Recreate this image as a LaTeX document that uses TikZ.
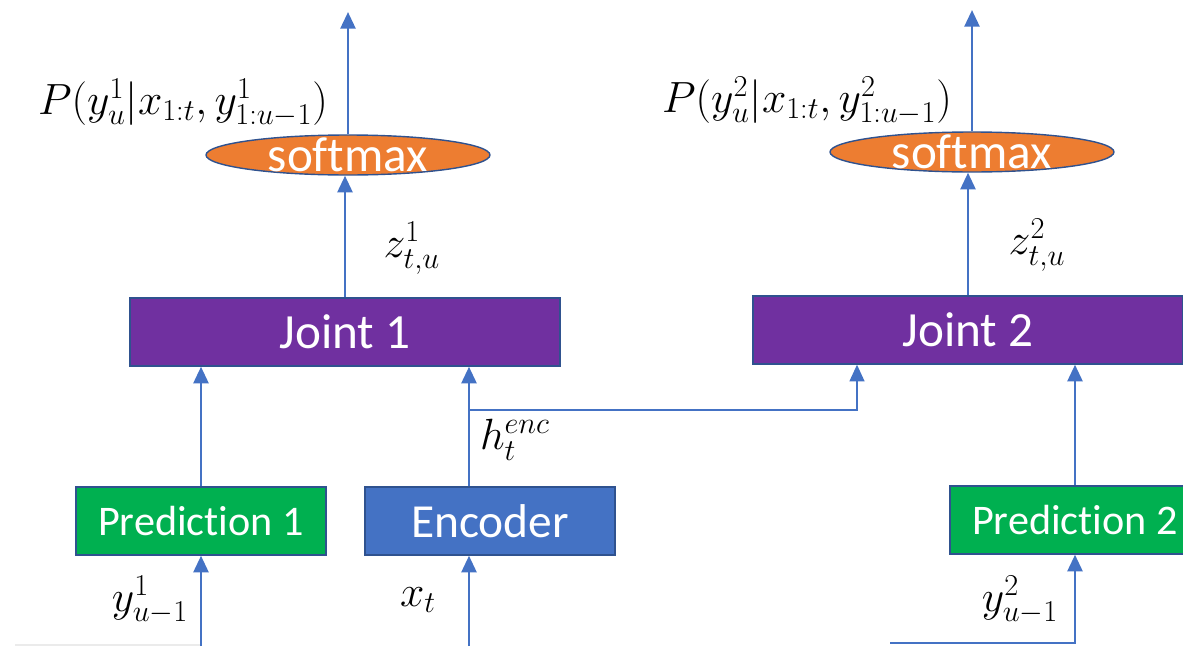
\documentclass[tikz,border=0pt]{standalone}
\usepackage{fontspec}
\newfontfamily\boxfont[Ligatures=NoCommon]{Carlito}
\usetikzlibrary{arrows.meta, positioning, shapes.geometric}
\definecolor{arrowblue}{HTML}{4472C4}
\definecolor{edgeblue}{HTML}{2F528F}
\definecolor{jointpurple}{HTML}{7030A0}
\definecolor{predgreen}{HTML}{00B050}
\definecolor{encblue}{HTML}{4472C4}
\definecolor{softorange}{HTML}{ED7D31}
\tikzset{
  block/.style={draw=edgeblue, line width=0.8pt, text=white, inner sep=0pt,
    font=\boxfont\fontsize{28}{32}\selectfont},
  jointbox/.style={block, fill=jointpurple, minimum width=8.6cm, minimum height=1.36cm},
  predbox/.style={block, fill=predgreen, minimum width=5cm, minimum height=1.36cm,
    font=\boxfont\fontsize{24}{28}\selectfont},
  encbox/.style={block, fill=encblue, minimum width=5cm, minimum height=1.36cm,
    font=\boxfont\fontsize{27}{30}\selectfont},
  softbox/.style={ellipse, draw=edgeblue, line width=0.8pt, fill=softorange,
    inner sep=0pt, minimum width=5.68cm, minimum height=0.8cm},
  softtext/.style={text=white, inner sep=0pt, font=\boxfont\fontsize{28}{30}\selectfont},
  flow/.style={-{Triangle[width=8.5pt,length=9.5pt]}, arrowblue, line width=1.6pt},
  lbl/.style={font=\fontsize{24}{28}\selectfont, inner sep=0pt}
}
\begin{document}
\begin{tikzpicture}[x=0.02cm, y=-0.02cm]
  \useasboundingbox (0,0) rectangle (1183,646);
  \clip (0,0) rectangle (1183,646);
  % Joint networks
  \node[jointbox] (joint1) at (345,332) {Joint 1};
  \node[jointbox] (joint2) at (968,330) {Joint 2};
  % Prediction and encoder blocks
  \node[predbox] (pred1) at (201,521) {Prediction 1};
  \node[encbox] (enc) at (490,521) {Encoder};
  \node[predbox] (pred2) at (1075,520) {Prediction 2};
  % Softmax layers
  \node[softbox, label={[softtext, name=softlbl1]center:softmax}] (soft1) at (348,155) {};
  \node[softbox, label={[softtext, name=softlbl2]center:softmax}] (soft2) at (972,152) {};
  % Free ends
  \coordinate (out1) at (348,12);
  \coordinate (out2) at (972,10);
  \coordinate (y1in) at (201,646);
  \coordinate (xtin) at (469,646);
  \coordinate (y2in) at (890,643);
  \coordinate (branch) at (469,410);
  \coordinate (j2in) at (857,410);
  % Arrows, left branch
  \draw[flow] (soft1.north) -- (out1);
  \draw[flow] (joint1.north) -- (joint1.north |- soft1.south);
  \draw[flow] (pred1.north) -- (pred1.north |- joint1.south);
  \draw[flow] (y1in) -- (pred1.south);
  \draw[flow] (xtin) -- (xtin |- enc.south);
  \draw[flow] (xtin |- enc.north) -- (xtin |- joint1.south);
  % Encoder output to second joint
  \draw[flow, line width=0.9pt] (branch) -- (j2in) -- (j2in |- joint2.south);
  % Arrows, right branch
  \draw[flow] (soft2.north) -- (out2);
  \draw[flow] (joint2.north) -- (joint2.north |- soft2.south);
  \draw[flow] (pred2.north) -- (pred2.north |- joint2.south);
  \draw[flow] (y2in) -| (pred2.south);
  \draw[black!8, line width=0.6pt] (15,645) -- (200,645);
  % Labels
  \node[lbl] (prob1) at (183,103) {$P(y^1_u|x_{1:t},y^1_{1:u-1})$};
  \node[lbl] (prob2) at (807,101) {$P(y^2_u|x_{1:t},y^2_{1:u-1})$};
  \node[lbl] (z1) at (412,248) {$z^1_{t,u}$};
  \node[lbl] (z2) at (1037,245) {$z^2_{t,u}$};
  \node[lbl] (henc) at (515,440) {$h_t^{enc}$};
  \node[lbl] (ylab1) at (150,600) {$y^1_{u-1}$};
  \node[lbl] (xlab) at (418,600) {$x_t$};
  \node[lbl] (ylab2) at (1020,600) {$y^2_{u-1}$};
\end{tikzpicture}
\end{document}
